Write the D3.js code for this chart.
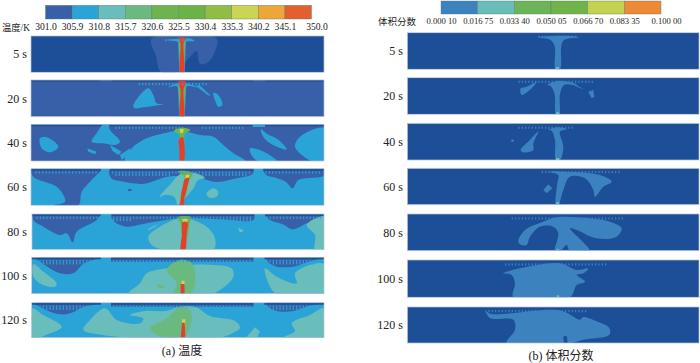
<!DOCTYPE html>
<html>
<head>
<meta charset="utf-8">
<script src="https://cdn.jsdelivr.net/npm/d3@7"></script>
<style>
body { margin: 0; background: #fff; }
text { font-family: "Liberation Serif", "Noto Sans CJK SC", serif; fill: #222; }
</style>
</head>
<body>
<div id="chart"></div>
<script>
// legend values
var tempTicks = ["301.0", "305.9", "310.8", "315.7", "320.6", "325.5", "330.4", "335.3", "340.2", "345.1", "350.0"];
var fracTicks = ["0.000 10", "0.016 75", "0.033 40", "0.050 05", "0.066 70", "0.083 35", "0.100 00"];
var times = ["5 s", "20 s", "40 s", "60 s", "80 s", "100 s", "120 s"];

// contour levels = legend band index, -1 is below the first band
var tempBackground = [-1, 0, 0, 1, 1, 1, 1];

// cell columns holding a row of inlets, shared by every panel
var inletCols = [5, 15, 25, 35, 45, 55, 65, 75, 85, 95, 105, 115, 125, 135, 145, 155, 165, 175, 185, 195, 205, 215, 225, 235, 245, 255, 265, 275, 285, 295, 305, 315, 325, 335, 345, 355, 365, 375, 385, 395, 405, 415, 425, 435, 445, 455, 465, 475, 485, 495, 505, 515, 525, 535, 545, 555, 565, 575, 585, 595, 605, 615, 625, 635, 645, 655, 665, 675, 685, 695, 705, 715, 725, 735, 745, 755, 765, 775, 785, 795, 805, 815, 825, 835, 845, 855, 865, 875];

// temperature contours: [level, [[col, row], ...]], four points make a straight strip
var temp5 = [
    [0, [[362, 8], [557, 8], [550, 50], [535, 75], [515, 85], [505, 80], [497, 45], [470, 70], [440, 108], [390, 108], [375, 60]]],
    [1, [[405, 12], [450, 8], [480, 8], [490, 15], [465, 17], [462, 25], [444, 25], [440, 17]]],
    [1, [[441, 15], [465, 15], [461, 109], [445, 109]]],
    [4, [[443, 8], [463, 8], [459, 109], [447, 109]]],
    [9, [[441, 6], [465, 6], [458, 20], [458, 109], [448, 109], [448, 20]]]
];
var temp20 = [
    [-1, [[0, 0], [880, 0], [880, 5], [0, 5]]],
    [0, [[207, 0], [242, 0], [242, 5], [207, 5]]],
    [0, [[665, 0], [702, 0], [702, 5], [665, 5]]],
    [1, [[307, 78], [327, 45], [352, 25], [367, 45], [377, 70], [397, 72], [367, 78], [337, 82], [312, 85]]],
    [1, [[547, 38], [562, 45], [574, 75], [562, 80], [552, 60]]],
    [1, [[505, 15], [540, 48], [530, 45], [495, 18]]],
    [1, [[412, 22], [440, 10], [465, 10], [500, 22], [470, 18], [462, 24], [444, 24], [435, 18]]],
    [1, [[440, 15], [466, 15], [461, 110], [445, 110]]],
    [4, [[442, 8], [464, 8], [459, 110], [447, 110]]],
    [9, [[440, 6], [466, 6], [458, 26], [458, 110], [448, 110], [448, 26]]]
];
var temp40 = [
    [-1, [[0, 0], [880, 0], [880, 6], [0, 6]]],
    [1, [[282, 110], [302, 72], [347, 42], [407, 25], [452, 19], [507, 32], [547, 37], [577, 62], [607, 87], [642, 110]]],
    [1, [[657, 72], [680, 75], [720, 95], [737, 110], [680, 110], [660, 90]]],
    [1, [[690, 15], [710, 30], [740, 45], [767, 75], [745, 70], [715, 55], [695, 35]]],
    [1, [[792, 62], [807, 37], [880, 12], [880, 110], [842, 110], [797, 77]]],
    [1, [[27, 42], [47, 39], [82, 67], [57, 84], [32, 72]]],
    [1, [[217, 0], [232, 0], [237, 17], [267, 52], [252, 62], [217, 57], [182, 52], [197, 27]]],
    [1, [[169, 72], [197, 82], [192, 90], [172, 82]]],
    [1, [[267, 92], [297, 72], [297, 87], [272, 107]]],
    [1, [[237, 62], [272, 82], [262, 92], [245, 80]]],
    [1, [[665, 0], [702, 0], [702, 8], [665, 8]]],
    [4, [[428, 20], [450, 10], [478, 18], [462, 28], [459, 60], [450, 60], [444, 30]]],
    [7, [[446, 14], [458, 14], [456, 26], [448, 26]]],
    [9, [[444, 45], [455, 38], [461, 75], [458, 110], [448, 110], [445, 75]]]
];
var temp60 = [
    [0, [[0, 0], [210, 0], [182, 34], [152, 69], [142, 110], [67, 110], [102, 99], [97, 79], [77, 54], [7, 24]]],
    [0, [[237, 0], [667, 0], [665, 15], [610, 30], [555, 40], [505, 28], [440, 22], [405, 25], [340, 45], [270, 38], [240, 28]]],
    [0, [[697, 0], [880, 0], [880, 20], [802, 34], [785, 59], [765, 40], [737, 28], [705, 18]]],
    [0, [[290, 62], [300, 60], [303, 66], [292, 68]]],
    [-1, [[0, 0], [210, 0], [210, 6], [0, 6]]],
    [-1, [[237, 0], [667, 0], [667, 6], [237, 6]]],
    [-1, [[697, 0], [880, 0], [880, 6], [697, 6]]],
    [2, [[387, 84], [415, 50], [450, 15], [490, 12], [522, 28], [500, 35], [490, 55], [465, 85], [445, 105], [440, 110], [430, 85], [405, 78]]],
    [2, [[527, 74], [547, 59], [562, 69], [557, 84], [532, 86]]],
    [4, [[440, 8], [480, 10], [484, 20], [474, 35], [462, 85], [450, 85], [460, 25]]],
    [7, [[464, 18], [476, 18], [470, 40], [460, 50]]],
    [9, [[462, 30], [474, 28], [470, 50], [460, 90], [458, 110], [448, 110], [449, 90], [456, 50]]]
];
var temp80 = [
    [0, [[4, 0], [204, 0], [194, 18], [134, 53], [122, 85], [104, 58], [84, 63], [34, 38], [4, 18]]],
    [0, [[239, 0], [665, 0], [664, 18], [564, 16], [444, 13], [344, 28], [284, 38], [244, 20]]],
    [0, [[699, 0], [877, 0], [877, 13], [824, 28], [784, 46], [750, 30], [714, 18]]],
    [-1, [[0, 0], [206, 0], [206, 6], [0, 6]]],
    [-1, [[239, 0], [667, 0], [667, 6], [239, 6]]],
    [-1, [[699, 0], [877, 0], [877, 6], [699, 6]]],
    [2, [[349, 68], [384, 38], [444, 13], [484, 18], [529, 43], [549, 73], [544, 108], [404, 108], [359, 93]]],
    [2, [[347, 45], [378, 30], [370, 38], [350, 48]]],
    [2, [[619, 43], [634, 50], [625, 55]]],
    [2, [[824, 33], [877, 8], [877, 108], [849, 108], [849, 63]]],
    [4, [[438, 10], [478, 10], [472, 30], [466, 70], [458, 80], [448, 60], [446, 30]]],
    [7, [[450, 14], [468, 14], [464, 26], [454, 26]]],
    [9, [[452, 25], [466, 25], [464, 60], [459, 108], [447, 108], [450, 60]]]
];
var temp100 = [
    [0, [[10, 0], [205, 0], [155, 20], [125, 48], [85, 48], [25, 13]]],
    [0, [[238, 0], [665, 0], [665, 13], [238, 13]]],
    [0, [[705, 0], [878, 0], [830, 13], [785, 28], [735, 28], [710, 15]]],
    [-1, [[0, 0], [208, 0], [208, 6], [0, 6]]],
    [-1, [[238, 0], [665, 0], [665, 6], [238, 6]]],
    [-1, [[698, 0], [878, 0], [878, 6], [698, 6]]],
    [2, [[5, 20], [35, 43], [75, 78], [70, 88], [35, 83], [5, 58]]],
    [2, [[290, 110], [325, 78], [345, 48], [405, 33], [465, 23], [545, 23], [600, 33], [605, 58], [565, 98], [535, 110]]],
    [2, [[700, 33], [735, 58], [795, 78], [790, 48], [855, 18], [878, 23], [878, 110], [735, 110], [710, 78]]],
    [3, [[405, 38], [445, 8], [480, 18], [490, 78], [475, 110], [425, 110], [435, 78]]],
    [3, [[375, 83], [400, 88], [385, 92]]],
    [7, [[449, 70], [459, 70], [458, 84], [450, 84]]],
    [9, [[447, 80], [458, 80], [459, 110], [447, 110]]]
];
var temp120 = [
    [0, [[10, 0], [205, 0], [150, 15], [120, 30], [85, 35], [25, 13]]],
    [0, [[238, 0], [665, 0], [665, 12], [238, 12]]],
    [0, [[705, 0], [878, 0], [830, 10], [785, 25], [735, 25], [710, 12]]],
    [-1, [[0, 0], [208, 0], [208, 6], [0, 6]]],
    [-1, [[238, 0], [665, 0], [665, 6], [238, 6]]],
    [-1, [[698, 0], [878, 0], [878, 6], [698, 6]]],
    [2, [[0, 17], [35, 37], [90, 72], [55, 92], [0, 105]]],
    [2, [[155, 82], [175, 52], [220, 17], [255, 52], [325, 62], [335, 47], [295, 37], [340, 25], [400, 25], [445, 12], [490, 12], [535, 40], [610, 55], [625, 75], [605, 90], [560, 105], [300, 105], [200, 95]]],
    [2, [[645, 102], [670, 74], [685, 87], [675, 105]]],
    [2, [[780, 62], [835, 37], [878, 17], [878, 105], [755, 105], [790, 85]]],
    [3, [[355, 77], [405, 47], [445, 12], [475, 22], [480, 42], [460, 102], [375, 97]]],
    [7, [[451, 50], [461, 50], [460, 68], [451, 68]]],
    [9, [[451, 60], [459, 60], [461, 105], [447, 105]]]
];
var tempContours = [temp5, temp20, temp40, temp60, temp80, temp100, temp120];

// inlet marks: [first col, last col, row, level]
var tempInlets = [
    [[405, 480, 12, 1]],
    [[325, 530, 12, 1]],
    [[250, 450, 10, 1], [510, 640, 10, 1]],
    [[10, 200, 11, 1], [245, 660, 11, 1], [705, 870, 11, 1], [250, 420, 18, 1], [510, 650, 18, 1]],
    [[10, 200, 11, 1], [245, 660, 11, 1], [705, 870, 11, 1], [240, 300, 18, 1], [570, 660, 18, 1]],
    [[10, 200, 11, 1], [245, 660, 11, 1], [705, 870, 11, 1], [30, 190, 18, 1], [720, 850, 18, 1]],
    [[10, 200, 11, 1], [245, 660, 11, 1], [705, 870, 11, 1], [30, 190, 18, 1], [720, 850, 18, 1]]
];

// volume fraction contours
var frac5 = [
    [0, [[395, 14], [440, 10], [490, 10], [515, 14], [470, 22], [462, 40], [458, 110], [445, 110], [442, 40], [430, 22]]],
    [1, [[445, 104], [455, 104], [455, 110], [445, 110]]]
];
var frac20 = [
    [0, [[420, 22], [450, 10], [490, 14], [510, 22], [470, 22], [458, 50], [456, 110], [446, 110], [442, 50], [430, 25]]],
    [0, [[340, 32], [358, 27], [388, 12], [373, 32], [343, 52]]],
    [0, [[488, 12], [530, 35], [520, 32], [478, 14]]],
    [0, [[543, 42], [558, 37], [561, 57], [553, 62]]],
    [1, [[446, 104], [456, 104], [456, 110], [446, 110]]]
];
var frac40 = [
    [0, [[423, 20], [453, 12], [478, 18], [458, 25], [468, 70], [458, 110], [446, 110], [443, 50], [433, 22]]],
    [0, [[340, 80], [368, 50], [393, 25], [378, 60], [378, 80], [348, 87]]],
    [0, [[312, 48], [320, 50], [318, 56], [312, 55]]],
    [1, [[446, 104], [456, 104], [456, 110], [446, 110]]]
];
var frac60 = [
    [0, [[428, 10], [478, 10], [578, 20], [613, 40], [588, 55], [563, 85], [558, 65], [533, 30], [488, 25], [468, 65], [453, 110], [446, 110], [450, 45], [453, 20]]],
    [0, [[408, 65], [423, 48], [435, 60], [418, 75]]],
    [1, [[446, 102], [456, 102], [456, 110], [446, 110]]]
];
var frac80 = [
    [0, [[333, 83], [353, 48], [408, 23], [448, 10], [508, 10], [608, 23], [643, 43], [628, 68], [568, 73], [508, 48], [488, 43], [548, 112], [488, 112], [478, 93], [458, 112], [443, 112], [453, 58], [438, 38], [398, 38], [368, 68], [358, 93], [343, 93]]],
    [1, [[446, 106], [456, 106], [456, 112], [446, 112]]]
];
var frac100 = [
    [0, [[288, 40], [338, 25], [458, 10], [508, 30], [543, 25], [528, 40], [508, 45], [533, 65], [508, 75], [488, 112], [318, 112], [323, 70], [313, 45]]],
    [1, [[448, 106], [456, 106], [456, 112], [448, 112]]]
];
var frac120 = [
    [0, [[233, 8], [248, 33], [318, 38], [323, 68], [298, 108], [468, 108], [468, 90], [478, 88], [483, 108], [528, 98], [606, 83], [606, 63], [568, 43], [528, 30], [518, 38], [458, 10], [248, 20]]]
];
var fracContours = [frac5, frac20, frac40, frac60, frac80, frac100, frac120];

var fracInlets = [
    [[390, 510, 12, 0]],
    [[330, 560, 12, 0]],
    [[330, 500, 13, 0]],
    [[400, 640, 11, 0]],
    [[310, 650, 13, 0]],
    [[290, 600, 13, 0]],
    [[240, 540, 12, 0]]
];

// colours and layout
var deepBlue = "#1f4f98";
var tempColors = ["#3761a8", "#2ba4d6", "#69bdbb", "#6bb97f", "#6cb44c", "#6cb344", "#92bd45", "#ccd553", "#eca739", "#e2402a"];
var fracColors = ["#3a82bf", "#68bdb6", "#6cb557", "#6fb44a", "#c3d24f", "#ec8a35"];
var legendTempColors = tempColors.slice(0, 9).concat("#e35e2d");
var cellsPerPx = 3;

var leftBoxes = [
    [31, 324, 36, 72.3], [31, 324, 80, 116.7], [31, 324, 124.3, 161], [31, 324, 168.7, 205.3],
    [32, 324, 214, 249.5], [31.7, 324, 257.3, 293.7], [31.7, 324, 302.7, 337.7]
];
var rightBoxes = [
    [407.3, 699, 32.7, 69.3], [407.3, 699, 77.7, 114.3], [407.3, 699, 123.3, 160], [407.3, 699, 168.3, 204.7],
    [407.3, 699, 214, 250.7], [407.3, 699, 260, 297.3], [407.3, 699, 307, 343]
];

var svg = d3.select("#chart").append("svg")
    .attr("width", 700)
    .attr("height", 363);

var defs = svg.append("defs");
defs.append("filter").attr("id", "soft")
    .attr("x", "-2%").attr("y", "-5%").attr("width", "104%").attr("height", "110%")
    .append("feGaussianBlur").attr("stdDeviation", 0.4);

function levelColor(colors, level) {
    return level < 0 ? deepBlue : colors[level];
}

function drawPanel(id, box, label, labelX, colors, background, contours, inlets) {
    var x = d3.scaleLinear().domain([0, (box[1] - box[0]) * cellsPerPx]).range([box[0], box[1]]);
    var y = d3.scaleLinear().domain([0, (box[3] - box[2]) * cellsPerPx]).range([box[2], box[3]]);

    defs.append("clipPath").attr("id", id)
        .append("rect")
        .attr("x", box[0])
        .attr("y", box[2])
        .attr("width", box[1] - box[0])
        .attr("height", box[3] - box[2]);

    var outer = svg.append("g").attr("filter", "url(#soft)");
    var g = outer.append("g").attr("clip-path", "url(#" + id + ")");

    g.append("rect")
        .attr("x", box[0])
        .attr("y", box[2])
        .attr("width", box[1] - box[0])
        .attr("height", box[3] - box[2])
        .attr("fill", levelColor(colors, background));

    var blob = d3.line()
        .x(function (d) { return x(d[0]) })
        .y(function (d) { return y(d[1]) })
        .curve(d3.curveCatmullRomClosed.alpha(0.5));
    var strip = d3.line()
        .x(function (d) { return x(d[0]) })
        .y(function (d) { return y(d[1]) })
        .curve(d3.curveLinearClosed);

    g.selectAll("path.contour")
        .data(contours)
        .enter()
        .append("path")
        .attr("class", "contour")
        .attr("d", function (d) { return d[1].length === 4 ? strip(d[1]) : blob(d[1]) })
        .attr("fill", function (d) { return levelColor(colors, d[0]) });

    inlets.forEach(function (seg) {
        var cols = inletCols.filter(function (c) { return c >= seg[0] && c <= seg[1] });
        g.selectAll("rect.inlet" + seg[0] + "r" + seg[2])
            .data(cols)
            .enter()
            .append("rect")
            .attr("class", "inlet" + seg[0] + "r" + seg[2])
            .attr("x", function (d) { return x(d) - 0.6 })
            .attr("y", y(seg[2] - 3))
            .attr("width", 1.2)
            .attr("height", 2.2)
            .attr("fill", colors[seg[3]]);
    });

    outer.append("rect")
        .attr("x", box[0])
        .attr("y", box[2])
        .attr("width", box[1] - box[0])
        .attr("height", box[3] - box[2])
        .attr("fill", "none")
        .attr("stroke", "#b4bfd8")
        .attr("stroke-width", 0.7);

    svg.append("text")
        .attr("x", labelX)
        .attr("y", (box[2] + box[3]) / 2)
        .attr("dy", "0.35em")
        .attr("text-anchor", "end")
        .attr("font-size", 12)
        .text(label);
}

times.forEach(function (t, i) {
    drawPanel("tp" + i, leftBoxes[i], t, 27, tempColors, tempBackground[i], tempContours[i], tempInlets[i]);
    drawPanel("fp" + i, rightBoxes[i], t, 403, fracColors, -1, fracContours[i], fracInlets[i]);
});

function drawLegend(ticks, colors, x0, x1, top, bottom, axisY, fontSize) {
    var x = d3.scalePoint().domain(ticks).range([x0, x1]);
    var gb = svg.append("g").attr("filter", "url(#soft)");
    gb.selectAll("rect")
        .data(colors)
        .enter()
        .append("rect")
        .attr("x", function (d, i) { return x(ticks[i]) })
        .attr("y", top)
        .attr("width", x.step())
        .attr("height", bottom - top)
        .attr("fill", function (d) { return d })
        .attr("stroke", "#5a7a70")
        .attr("stroke-width", 0.4);

    var axis = svg.append("g")
        .attr("transform", "translate(0," + axisY + ")")
        .call(d3.axisBottom(x).tickSize(0).tickPadding(0));
    axis.select(".domain").remove();
    axis.selectAll("text")
        .attr("font-size", fontSize)
        .attr("y", 0);
    axis.select(".tick:last-of-type text").attr("dx", 5);
}

drawLegend(tempTicks, legendTempColors, 45.5, 311.5, 5.3, 19, 23, 9.6);
drawLegend(fracTicks, fracColors, 441, 661, 1, 14, 18, 8.6);

svg.append("text").attr("x", 2).attr("y", 30.5).attr("font-size", 9.3).text("温度/K");
svg.append("text").attr("x", 378).attr("y", 25).attr("font-size", 9.5).text("体积分数");
svg.append("text").attr("x", 182).attr("y", 355).attr("text-anchor", "middle").attr("font-size", 12).text("(a) 温度");
svg.append("text").attr("x", 561).attr("y", 360).attr("text-anchor", "middle").attr("font-size", 12).text("(b) 体积分数");
</script>
</body>
</html>
